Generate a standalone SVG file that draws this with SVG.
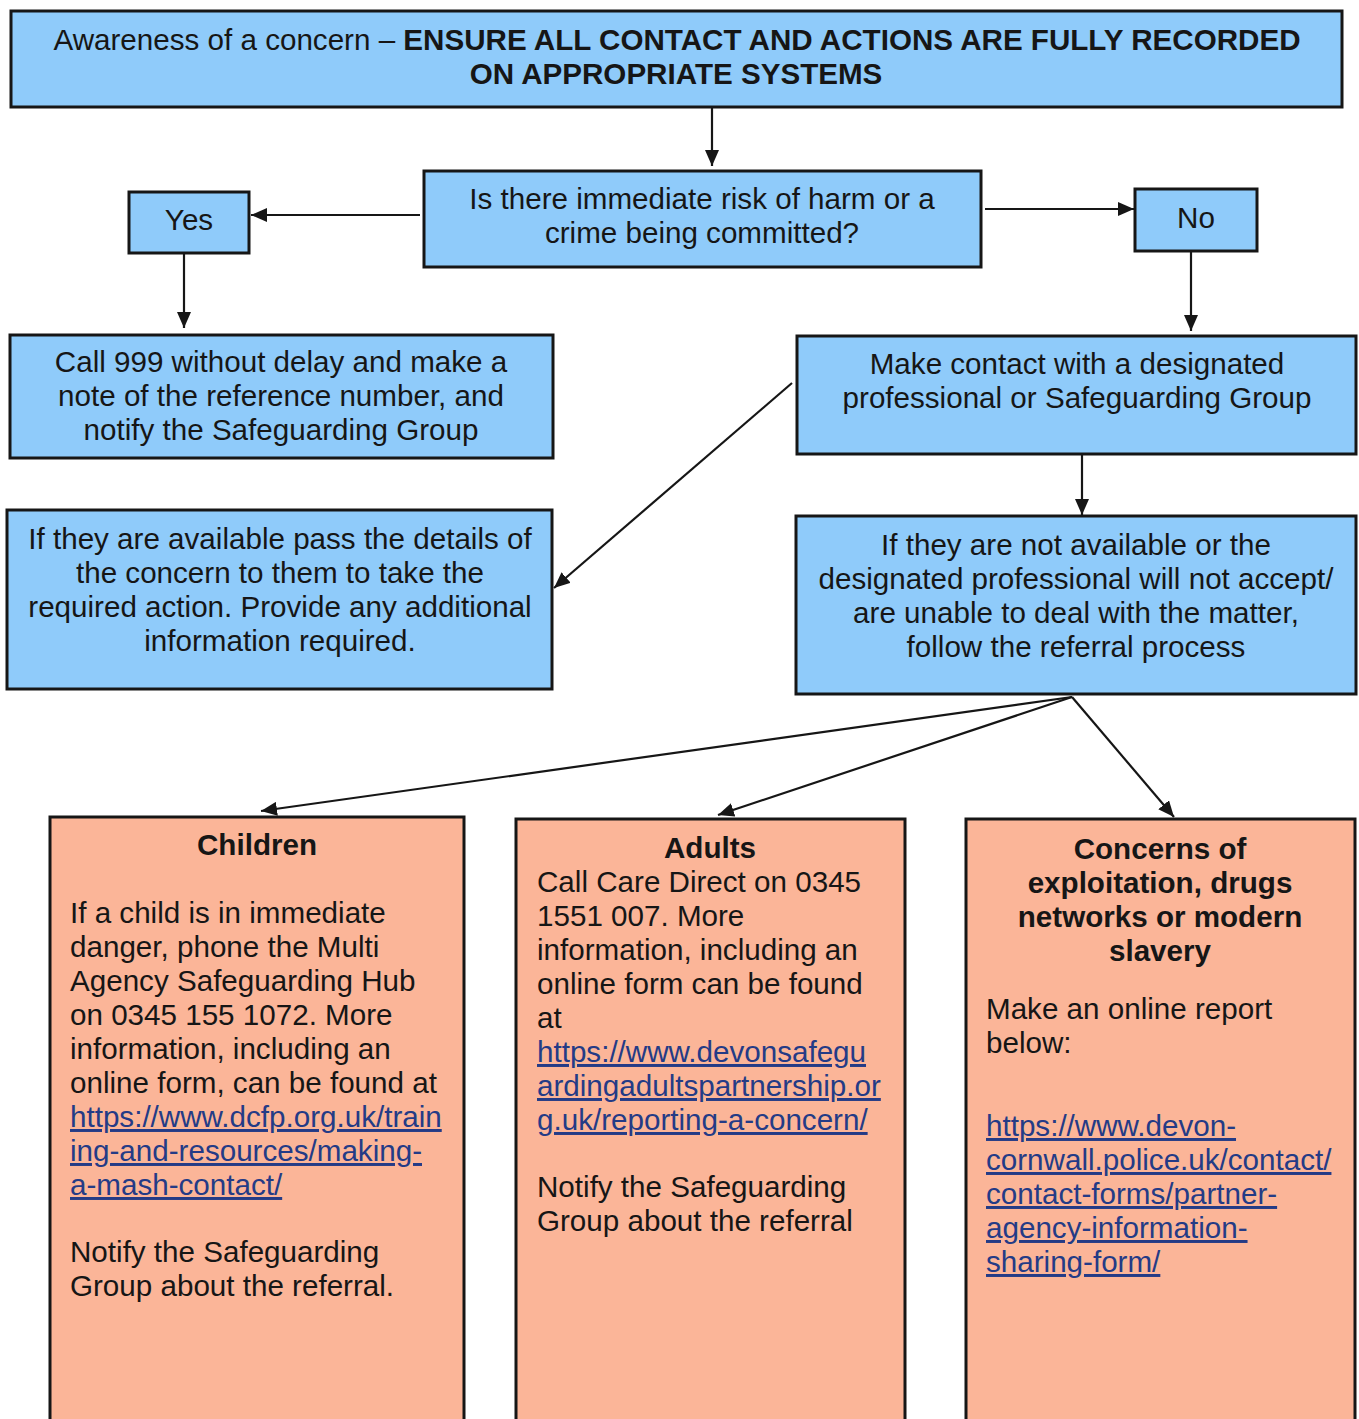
<svg xmlns="http://www.w3.org/2000/svg" width="1359" height="1419" viewBox="0 0 1359 1419">
<defs>
<style>
text{font-family:"Liberation Sans",Arial,sans-serif;font-size:29.6px;fill:#161616}
.b{font-weight:bold}
.c{text-anchor:middle}
.blue{fill:#8FCBFA;stroke:#161616;stroke-width:3}
.sal{fill:#FBB598;stroke:#161616;stroke-width:3}
.ln{stroke:#161616;stroke-width:2.2;fill:none}
.lk{fill:#243B86;text-decoration:underline}
</style>
<marker id="ah" viewBox="0 0 16 14" refX="16" refY="7" markerWidth="16" markerHeight="14" markerUnits="userSpaceOnUse" orient="auto">
<path d="M0,0 L16,7 L0,14 Z" fill="#161616"/>
</marker>
</defs>
<rect width="1359" height="1419" fill="#fff"/>

<g id="connectors">
<line class="ln" x1="712" y1="107" x2="712" y2="166" marker-end="url(#ah)"/>
<line class="ln" x1="420" y1="215" x2="251" y2="215" marker-end="url(#ah)"/>
<line class="ln" x1="985" y1="209" x2="1134" y2="209" marker-end="url(#ah)"/>
<line class="ln" x1="184" y1="253" x2="184" y2="328" marker-end="url(#ah)"/>
<line class="ln" x1="1191" y1="251" x2="1191" y2="331" marker-end="url(#ah)"/>
<line class="ln" x1="792" y1="383" x2="554" y2="588" marker-end="url(#ah)"/>
<line class="ln" x1="1082" y1="455" x2="1082" y2="515" marker-end="url(#ah)"/>
<line class="ln" x1="1072" y1="697" x2="261" y2="811" marker-end="url(#ah)"/>
<line class="ln" x1="1072" y1="697" x2="718" y2="815" marker-end="url(#ah)"/>
<line class="ln" x1="1072" y1="697" x2="1174" y2="817" marker-end="url(#ah)"/>
</g>

<g id="awareness">
<rect class="blue" x="11" y="11" width="1331" height="96"/>
<text class="c" x="677" y="50">Awareness of a concern – <tspan class="b">ENSURE ALL CONTACT AND ACTIONS ARE FULLY RECORDED</tspan></text>
<text class="c b" x="676" y="84">ON APPROPRIATE SYSTEMS</text>
</g>

<g id="question">
<rect class="blue" x="424" y="171" width="557" height="96"/>
<text class="c" x="702" y="209">Is there immediate risk of harm or a</text>
<text class="c" x="702" y="243">crime being committed?</text>
</g>

<g id="yes">
<rect class="blue" x="129" y="192" width="120" height="61"/>
<text class="c" x="189" y="230">Yes</text>
</g>

<g id="no">
<rect class="blue" x="1135" y="189" width="122" height="62"/>
<text class="c" x="1196" y="228">No</text>
</g>

<g id="call999">
<rect class="blue" x="10" y="335" width="543" height="123"/>
<text class="c" x="281" y="372">Call 999 without delay and make a</text>
<text class="c" x="281" y="406">note of the reference number, and</text>
<text class="c" x="281" y="440">notify the Safeguarding Group</text>
</g>

<g id="contact">
<rect class="blue" x="797" y="336" width="559" height="118"/>
<text class="c" x="1077" y="374">Make contact with a designated</text>
<text class="c" x="1077" y="408">professional or Safeguarding Group</text>
</g>

<g id="available">
<rect class="blue" x="7" y="510" width="545" height="179"/>
<text class="c" x="280" y="549">If they are available pass the details of</text>
<text class="c" x="280" y="583">the concern to them to take the</text>
<text class="c" x="280" y="617">required action. Provide any additional</text>
<text class="c" x="280" y="651">information required.</text>
</g>

<g id="notavailable">
<rect class="blue" x="796" y="516" width="560" height="178"/>
<text class="c" x="1076" y="555">If they are not available or the</text>
<text class="c" x="1076" y="589">designated professional will not accept/</text>
<text class="c" x="1076" y="623">are unable to deal with the matter,</text>
<text class="c" x="1076" y="657">follow the referral process</text>
</g>

<g id="children">
<rect class="sal" x="50" y="817" width="414" height="620"/>
<text class="c b" x="257" y="855">Children</text>
<text x="70" y="923">If a child is in immediate</text>
<text x="70" y="957">danger, phone the Multi</text>
<text x="70" y="991">Agency Safeguarding Hub</text>
<text x="70" y="1025">on 0345 155 1072. More</text>
<text x="70" y="1059">information, including an</text>
<text x="70" y="1093">online form, can be found at</text>
<text class="lk" x="70" y="1127">https://www.dcfp.org.uk/train</text>
<text class="lk" x="70" y="1161">ing-and-resources/making-</text>
<text class="lk" x="70" y="1195">a-mash-contact/</text>
<text x="70" y="1262">Notify the Safeguarding</text>
<text x="70" y="1296">Group about the referral.</text>
</g>

<g id="adults">
<rect class="sal" x="516" y="819" width="389" height="620"/>
<text class="c b" x="710" y="858">Adults</text>
<text x="537" y="892">Call Care Direct on 0345</text>
<text x="537" y="926">1551 007. More</text>
<text x="537" y="960">information, including an</text>
<text x="537" y="994">online form can be found</text>
<text x="537" y="1028">at</text>
<text class="lk" x="537" y="1062">https://www.devonsafegu</text>
<text class="lk" x="537" y="1096">ardingadultspartnership.or</text>
<text class="lk" x="537" y="1130">g.uk/reporting-a-concern/</text>
<text x="537" y="1197">Notify the Safeguarding</text>
<text x="537" y="1231">Group about the referral</text>
</g>

<g id="exploitation">
<rect class="sal" x="966" y="819" width="389" height="620"/>
<text class="c b" x="1160" y="859">Concerns of</text>
<text class="c b" x="1160" y="893">exploitation, drugs</text>
<text class="c b" x="1160" y="927">networks or modern</text>
<text class="c b" x="1160" y="961">slavery</text>
<text x="986" y="1019">Make an online report</text>
<text x="986" y="1053">below:</text>
<text class="lk" x="986" y="1136">https://www.devon-</text>
<text class="lk" x="986" y="1170">cornwall.police.uk/contact/</text>
<text class="lk" x="986" y="1204">contact-forms/partner-</text>
<text class="lk" x="986" y="1238">agency-information-</text>
<text class="lk" x="986" y="1272">sharing-form/</text>
</g>
</svg>
